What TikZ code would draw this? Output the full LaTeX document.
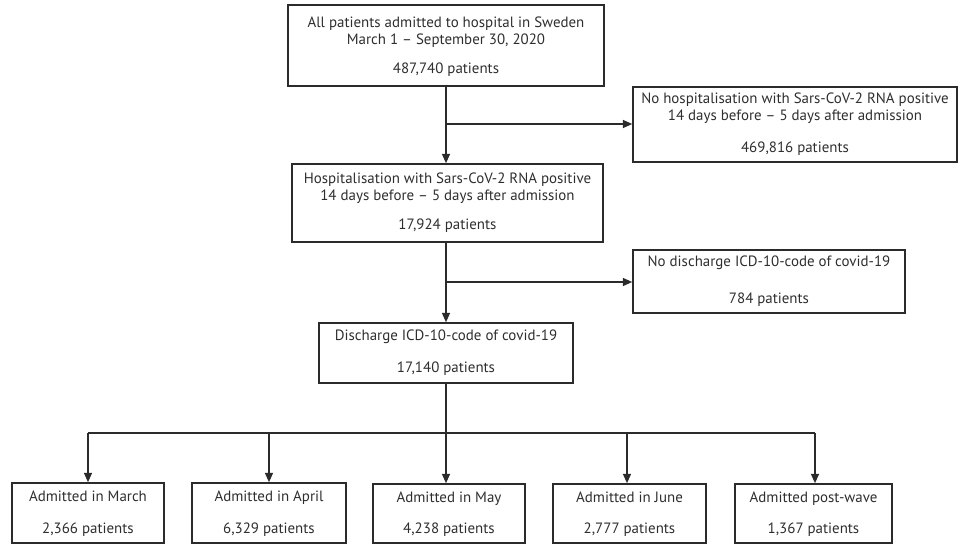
\documentclass[tikz,border=0pt]{standalone}
\usepackage{fontspec}
\setmainfont{PT Sans}
\usetikzlibrary{arrows.meta,fit}
\definecolor{ln}{HTML}{2B2B2B}
\definecolor{tx}{HTML}{2E2E2E}
\begin{document}
\begin{tikzpicture}[x=0.75pt,y=-0.75pt,
  box/.style={draw=ln,line width=1.2pt,inner sep=0pt},
  lbl/.style={text=tx,align=center,font=\fontsize{11.2pt}{12.75pt}\selectfont,inner sep=0pt},
  arr/.style={draw=ln,line width=1.1pt,-{Triangle[length=7pt,width=6pt]}},
  con/.style={draw=ln,line width=1.1pt}]
\useasboundingbox (0,0) rectangle (958,545);
% boxes
\node[box,fit={(288,5) (604,86)}] (A) {};
\node[box,fit={(633,87) (957,162)}] (R1) {};
\node[box,fit={(292,164) (603,242)}] (B) {};
\node[box,fit={(633,250) (905,313)}] (R2) {};
\node[box,fit={(319,323) (573,383)}] (C) {};
\node[box,fit={(12,483) (164,543)}] (M1) {};
\node[box,fit={(192,483) (346,543)}] (M2) {};
\node[box,fit={(373,484) (525,543)}] (M3) {};
\node[box,fit={(553,484) (706,543)}] (M4) {};
\node[box,fit={(735,484) (892,543)}] (M5) {};
% labels
\node[lbl] (tA) at ([yshift=-1pt]A.center) {All patients admitted to hospital in Sweden\\March 1 – September 30, 2020\\[9pt]487,740 patients};
\node[lbl] (tR1) at (R1.center) {No hospitalisation with Sars-CoV-2 RNA positive\\14 days before – 5 days after admission\\[11pt]469,816 patients};
\node[lbl] (tB) at (B.center) {Hospitalisation with Sars-CoV-2 RNA positive\\14 days before – 5 days after admission\\[9pt]17,924 patients};
\node[lbl] (tR2) at (R2.center) {No discharge ICD-10-code of covid-19\\[15pt]784 patients};
\node[lbl] (tC) at (C.center) {Discharge ICD-10-code of covid-19\\[11pt]17,140 patients};
\node[lbl] (t1) at ([yshift=-0.5pt]M1.center) {Admitted in March\\[11pt]2,366 patients};
\node[lbl] (t2) at ([yshift=-0.5pt]M2.center) {Admitted in April\\[11pt]6,329 patients};
\node[lbl] (t3) at ([yshift=-0.5pt]M3.center) {Admitted in May\\[11pt]4,238 patients};
\node[lbl] (t4) at ([yshift=-0.5pt]M4.center) {Admitted in June\\[11pt]2,777 patients};
\node[lbl] (t5) at ([yshift=-0.5pt]M5.center) {Admitted post-wave\\[11pt]1,367 patients};
% connectors
\coordinate (j1) at (446,124);
\coordinate (j2) at (446,282);
\coordinate (j3) at (446,433);
\coordinate (b1) at (88,433);
\coordinate (b2) at (269,433);
\coordinate (b4) at (627,433);
\coordinate (b5) at (815,433);
\draw[arr] (A.south -| j1) -- (B.north -| j1);
\draw[arr] (j1) -- (R1.west |- j1);
\draw[arr] (B.south -| j2) -- (C.north -| j2);
\draw[arr] (j2) -- (R2.west |- j2);
\draw[con] (C.south -| j3) -- (j3);
\draw[con] (b1) -- (b5);
\draw[arr] (b1) -- (M1.north -| b1);
\draw[arr] (b2) -- (M2.north -| b2);
\draw[arr] (j3) -- (M3.north -| j3);
\draw[arr] (b4) -- (M4.north -| b4);
\draw[arr] (b5) -- (M5.north -| b5);
\end{tikzpicture}
\end{document}
